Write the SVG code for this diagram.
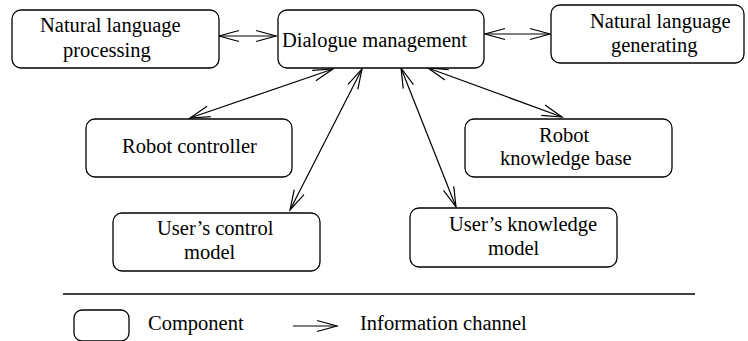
<svg xmlns="http://www.w3.org/2000/svg" width="748" height="341" viewBox="0 0 748 341">
<defs>
<style>
.box{fill:#fff;stroke:#000;stroke-width:1.3}
.t{font-family:"Liberation Serif","Times New Roman",serif;font-size:20.5px;fill:#000}
.c{fill:none;stroke:#000;stroke-width:1.2}
</style>
<marker id="ah" markerUnits="userSpaceOnUse" markerWidth="22" markerHeight="14" viewBox="0 0 22 14" refX="21" refY="7" orient="auto-start-reverse" overflow="visible">
<path d="M1,1.5 L21,7 L1,12.5" fill="none" stroke="#000" stroke-width="1.2"/>
</marker>
</defs>
<rect width="748" height="341" fill="#fff"/>
<g id="connectors">
<line class="c" x1="219" y1="36" x2="276" y2="36" marker-start="url(#ah)" marker-end="url(#ah)"/>
<line class="c" x1="485" y1="34" x2="550" y2="34" marker-start="url(#ah)" marker-end="url(#ah)"/>
<line class="c" x1="333" y1="69" x2="190" y2="118" marker-start="url(#ah)" marker-end="url(#ah)"/>
<line class="c" x1="362" y1="69" x2="290" y2="210" marker-start="url(#ah)" marker-end="url(#ah)"/>
<line class="c" x1="401" y1="68" x2="456" y2="207" marker-start="url(#ah)" marker-end="url(#ah)"/>
<line class="c" x1="428" y1="68" x2="562" y2="117" marker-start="url(#ah)" marker-end="url(#ah)"/>
</g>
<g id="nlp">
<rect class="box" x="12" y="10" width="207" height="58" rx="9"/>
<text class="t" x="40" y="32">Natural language</text>
<text class="t" x="63" y="57">processing</text>
</g>
<g id="dm">
<rect class="box" x="278" y="10" width="206" height="58" rx="9"/>
<text class="t" x="282" y="47">Dialogue management</text>
</g>
<g id="nlg">
<rect class="box" x="551" y="5" width="193" height="58" rx="9"/>
<text class="t" x="590" y="28">Natural language</text>
<text class="t" x="611" y="52">generating</text>
</g>
<g id="rc">
<rect class="box" x="86" y="119" width="206" height="58" rx="9"/>
<text class="t" x="122" y="153">Robot controller</text>
</g>
<g id="rkb">
<rect class="box" x="465" y="119" width="207" height="58" rx="9"/>
<text class="t" x="539" y="142">Robot</text>
<text class="t" x="500" y="165">knowledge base</text>
</g>
<g id="ucm">
<rect class="box" x="113" y="213" width="207" height="58" rx="9"/>
<text class="t" x="157" y="235">User’s control</text>
<text class="t" x="184" y="259">model</text>
</g>
<g id="ukm">
<rect class="box" x="410" y="208" width="207" height="59" rx="9"/>
<text class="t" x="449" y="231">User’s knowledge</text>
<text class="t" x="488" y="255">model</text>
</g>
<g id="legend">
<line x1="63" y1="294" x2="695" y2="294" stroke="#000" stroke-width="1.3"/>
<rect class="box" x="74" y="310" width="55" height="31" rx="8"/>
<text class="t" x="148" y="330">Component</text>
<line class="c" x1="293" y1="326" x2="337" y2="326" marker-end="url(#ah)"/>
<text class="t" x="360" y="330">Information channel</text>
</g>
</svg>
